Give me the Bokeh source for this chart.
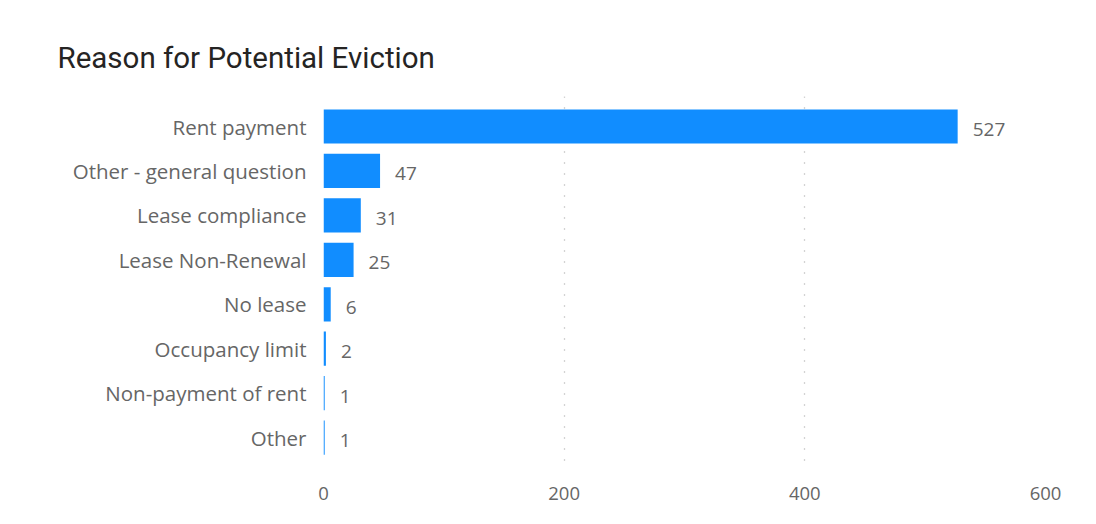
from bokeh.plotting import figure
from bokeh.models import Range1d, FixedTicker, Title
from bokeh.core.properties import value
from bokeh.embed import file_html
from bokeh.resources import INLINE

categories = ["Rent payment", "Other - general question", "Lease compliance",
              "Lease Non-Renewal", "No lease", "Occupancy limit",
              "Non-payment of rent", "Other"]
counts = [527, 47, 31, 25, 6, 2, 1, 1]
x_ticks = [0, 200, 400, 600]

positions = list(range(len(categories)))

p = figure(width=1096, height=524, output_backend="svg", toolbar_location=None,
           x_range=Range1d(0, 600), y_range=Range1d(7.56, -0.675),
           min_border_left=323, min_border_right=51, min_border_top=96,
           min_border_bottom=62)
p.outline_line_color = None
p.background_fill_color = "white"
p.border_fill_color = "white"

p.hbar(y=positions, right=counts, left=0, height=0.77,
       fill_color="#118DFF", line_color=None)

labels = [str(c) for c in counts]
p.text(x=counts, y=positions, text=labels, x_offset=15, y_offset=3,
       text_baseline="middle", text_align="left",
       text_font=value("Open Sans"), text_font_size="19px", text_color="#666666")

p.title = Title(text="Reason for Potential Eviction", align="left",
                text_font="Roboto", text_font_size="29.5px",
                text_font_style="normal", text_color="#252423",
                offset=-266, standoff=43)

p.xaxis.ticker = FixedTicker(ticks=x_ticks)
p.yaxis.ticker = FixedTicker(ticks=positions)
p.yaxis.major_label_overrides = {i: c for i, c in enumerate(categories)}
for ax in (p.xaxis, p.yaxis):
    ax.axis_line_color = None
    ax.major_tick_line_color = None
    ax.minor_tick_line_color = None
    ax.major_label_text_font = "Open Sans"
    ax.major_label_text_color = "#666666"
p.yaxis.major_label_text_font_size = "20.5px"
p.xaxis.major_label_text_font_size = "18.5px"
p.yaxis.major_label_standoff = 11
p.xaxis.major_label_standoff = 18

p.ygrid.grid_line_color = None
p.xgrid.grid_line_color = "#a8a8a8"
p.xgrid.grid_line_dash = "1 10"
p.xgrid.grid_line_width = 1.3

open("out.html", "w").write(file_html(p, INLINE))
